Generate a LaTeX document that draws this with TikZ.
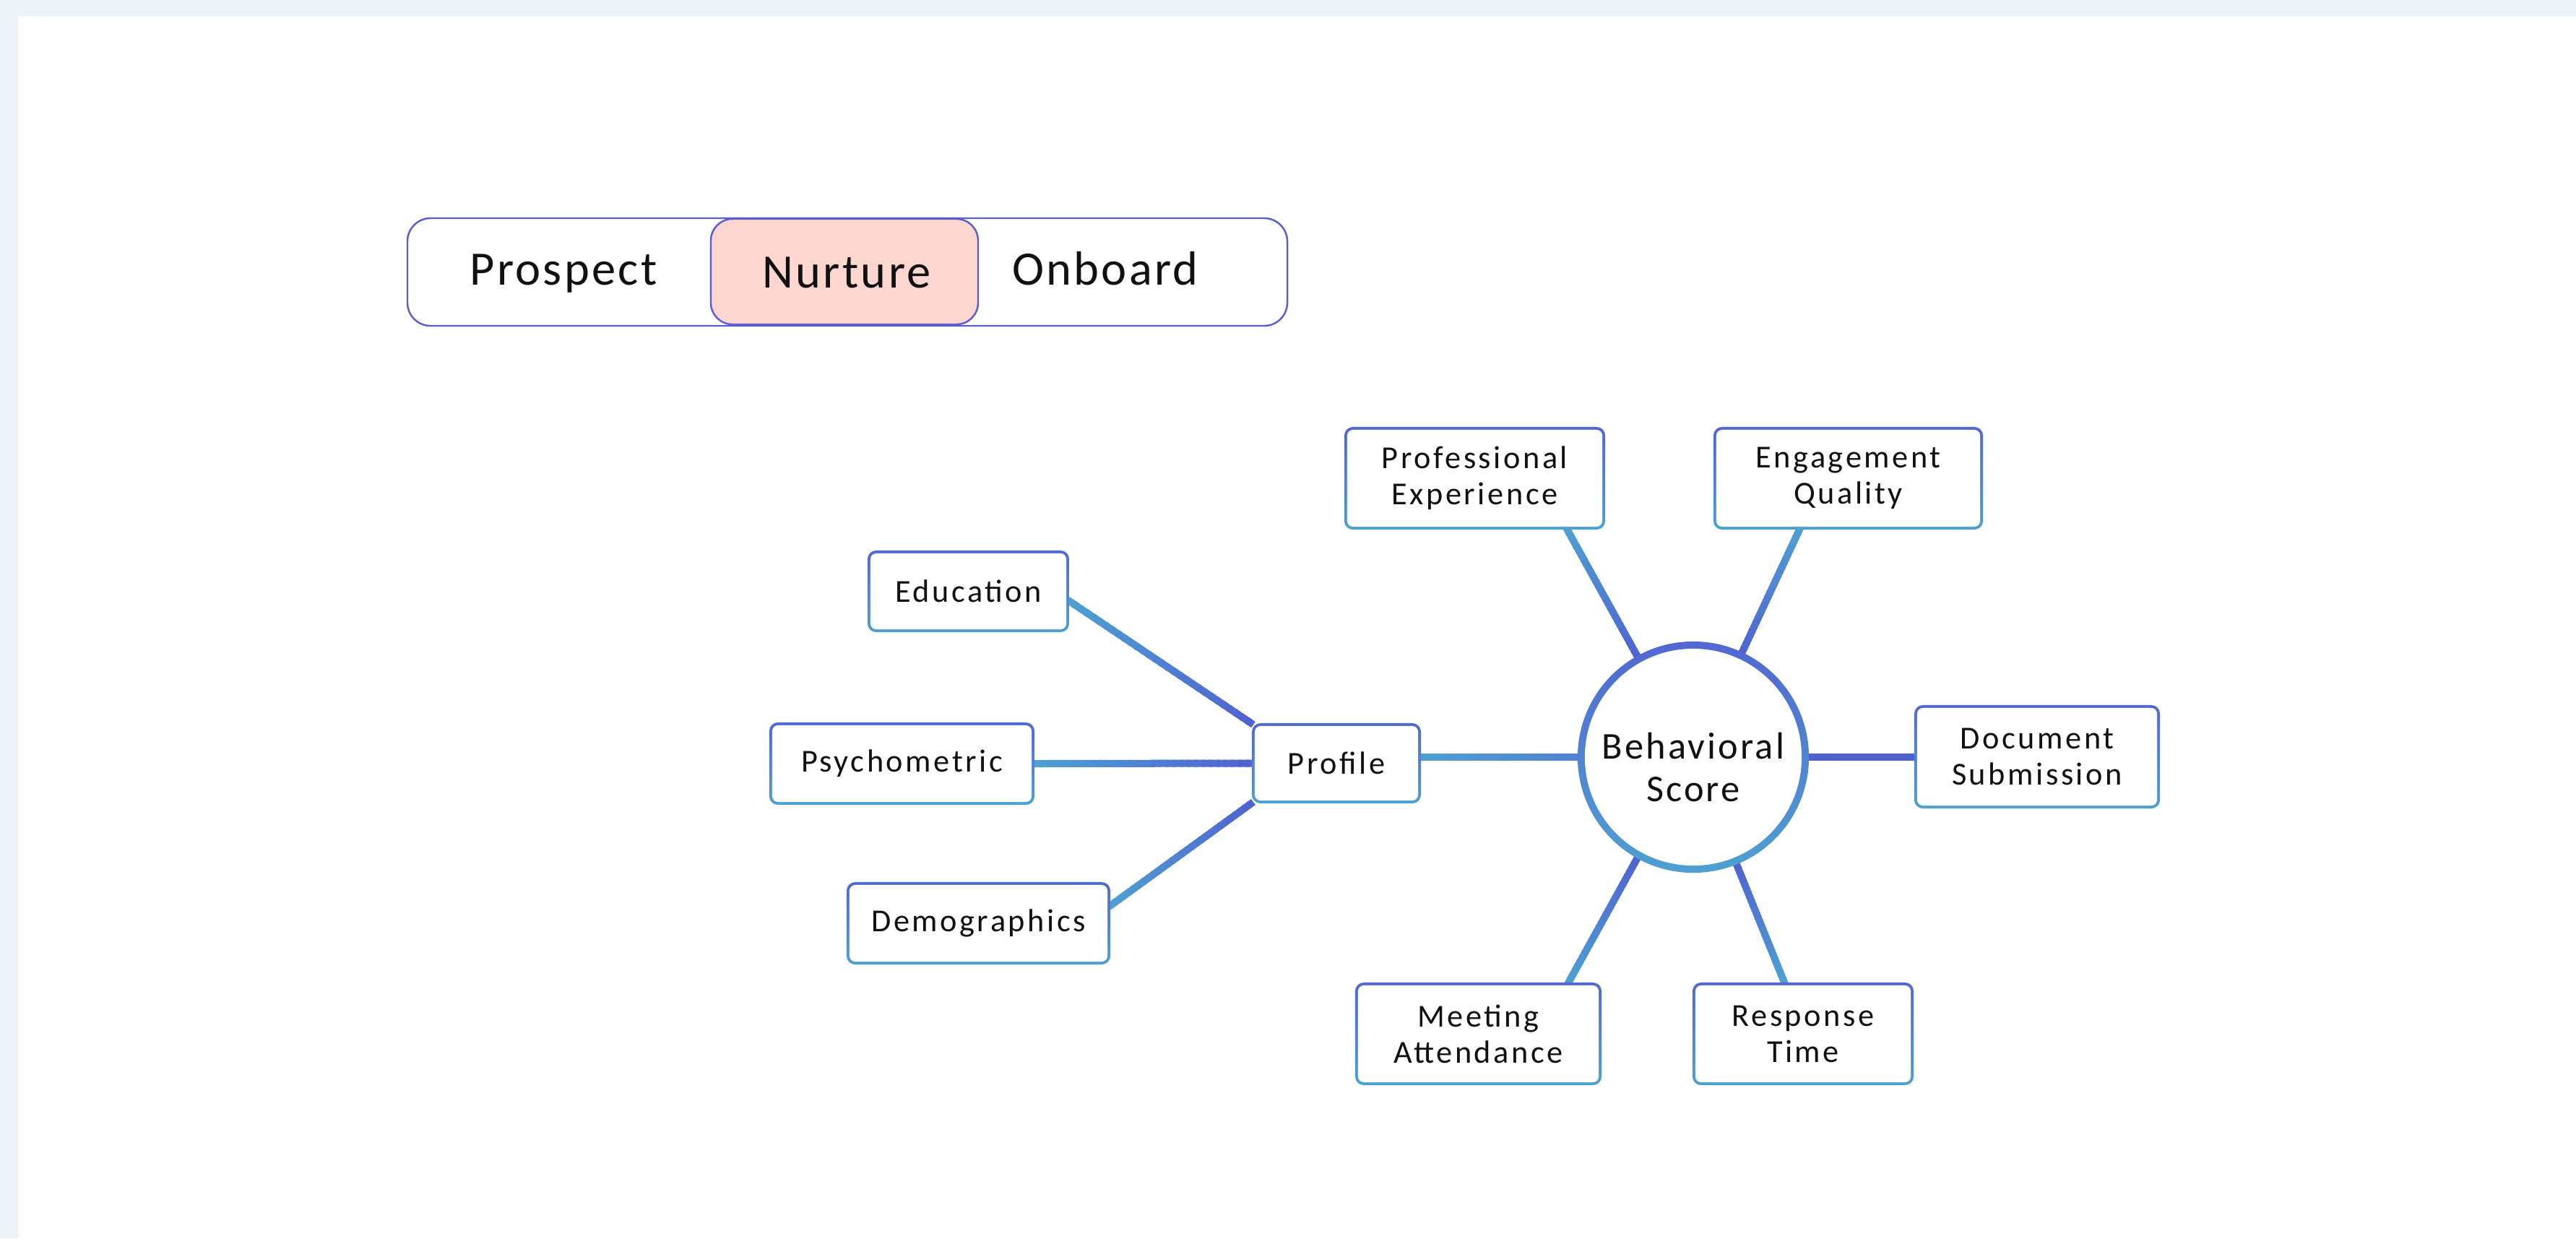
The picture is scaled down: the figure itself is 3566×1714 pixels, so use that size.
\documentclass[tikz,border=0pt]{standalone}
\usepackage{fontspec}
\setmainfont{Carlito}[LetterSpace=8]
\usetikzlibrary{calc}

\definecolor{pagebg}{RGB}{238,243,248}
\definecolor{ink}{RGB}{17,17,17}
\definecolor{tabline}{RGB}{90,94,208}
\definecolor{tabfill}{RGB}{253,214,208}
\definecolor{linkDark}{RGB}{80,98,208}
\definecolor{linkMid}{RGB}{80,130,208}
\definecolor{linkLight}{RGB}{78,160,210}
\definecolor{frameTop}{RGB}{82,104,210}
\definecolor{frameBot}{RGB}{78,160,210}

\pgfdeclarelayer{bg}
\pgfdeclarelayer{links}
\pgfdeclarelayer{frames}
\pgfsetlayers{bg,links,frames,main}

% thick connector whose colour runs from #3 (at #1) to #4 (at #2)
\newcommand\gradlink[4]{%
  \foreach \k in {0,...,29}{%
    \pgfmathsetmacro\ta{\k/30}%
    \pgfmathsetmacro\tb{min(1,(\k+1.4)/30)}%
    \pgfmathtruncatemacro\pc{\k*100/29}%
    \draw[link, draw={#4!\pc!#3}] ($(#1)!\ta!(#2)$) -- ($(#1)!\tb!(#2)$);
  }}

% rounded frame with a vertical colour gradient around a node
\newcommand\leafframe[1]{%
  \shade[top color=frameTop,bottom color=frameBot,rounded corners=0.12cm]
    ($(#1.south west)+(-0.02cm,-0.02cm)$) rectangle ($(#1.north east)+(0.02cm,0.02cm)$);
  \fill[white,rounded corners=0.08cm]
    ($(#1.south west)+(0.02cm,0.02cm)$) rectangle ($(#1.north east)+(-0.02cm,-0.02cm)$);}

\begin{document}
\begin{tikzpicture}[x=0.01cm,y=-0.01cm,
  leaf/.style={rectangle, inner sep=0pt, outer sep=0pt, align=center, text=ink,
    font=\fontsize{12.6}{14.2}\selectfont},
  hub/.style={circle, inner sep=0pt, outer sep=0pt, minimum size=3.1cm},
  hubtext/.style={inner sep=0pt, align=center, text=ink,
    font=\fontsize{14.9}{16.8}\selectfont\addfontfeatures{LetterSpace=6}},
  tab/.style={anchor=base, text=ink, inner sep=0pt,
    font=\fontsize{18.9}{22}\selectfont\addfontfeatures{LetterSpace=5}},
  link/.style={line width=0.1cm, line cap=butt},
]
\useasboundingbox (0,0) rectangle (3566,1714);

\begin{pgfonlayer}{bg}
  \fill[pagebg] (0,0) rectangle (3566,1714);
  \fill[white] (25,23) rectangle (3566,1714);
\end{pgfonlayer}

% stage selector
\draw[tabline, line width=0.7pt, rounded corners=0.32cm] (564,302) rectangle (1782,451);
\draw[tabline, fill=tabfill, line width=0.7pt, rounded corners=0.3cm] (984,303) rectangle (1354,449);
\node[tab] (prospect) at (780,394) {Prospect};
\node[tab] (nurture) at (1172,398) {Nurture};
\node[tab] (onboard) at (1530,394) {Onboard};

% mind map nodes
\node[hub] (bs) at (2344,1048) {};
\node[hubtext] (bs-label) at (2344,1062) {Behavioral\\Score};
\node[leaf, minimum width=2.30cm, minimum height=1.07cm] (prof) at (1850,1056.5) {Profile};
\node[leaf, minimum width=2.75cm, minimum height=1.09cm] (edu) at (1340.5,818.5) {Education};
\node[leaf, minimum width=3.63cm, minimum height=1.10cm] (psy) at (1248.5,1057) {Psychometric};
\node[leaf, minimum width=3.61cm, minimum height=1.10cm] (demo) at (1354.5,1278) {Demographics};
\node[leaf, minimum width=3.57cm, minimum height=1.38cm] (pe) at (2041.5,662) {Professional\\Experience};
\node[leaf, minimum width=3.69cm, minimum height=1.38cm] (eq) at (2558.5,662) {Engagement\\Quality};
\node[leaf, minimum width=3.36cm, minimum height=1.39cm] (doc) at (2820,1047.5) {Document\\Submission};
\node[leaf, minimum width=3.37cm, minimum height=1.38cm] (ma) at (2046.5,1431) {Meeting\\Attendance};
\node[leaf, minimum width=3.02cm, minimum height=1.38cm] (rt) at (2496,1431) {Response\\Time};

% connector end points
\coordinate (edu-out) at ($(edu.east)+(0,-0.12cm)$);
\coordinate (demo-out) at ($(demo.east)+(0,0.23cm)$);
\coordinate (prof-out) at (prof.east |- bs.center);
\coordinate (doc-in) at (doc.west |- bs.center);
\coordinate (pe-foot) at (intersection of bs.center--bs.119 and pe.south west--pe.south east);
\coordinate (eq-foot) at (intersection of bs.center--bs.65 and eq.south west--eq.south east);
\coordinate (ma-top) at (intersection of bs.center--bs.241 and ma.north west--ma.north east);
\coordinate (rt-top) at (intersection of bs.center--bs.292 and rt.north west--rt.north east);

\begin{pgfonlayer}{links}
  \gradlink{edu-out}{prof.north west}{linkLight}{linkDark}
  \gradlink{psy.east}{prof.west}{linkLight}{linkDark}
  \gradlink{demo-out}{prof.south west}{linkLight}{linkDark}
  \gradlink{prof-out}{bs.west}{linkLight}{linkMid}
  \gradlink{pe-foot}{bs.119}{linkLight}{linkDark}
  \gradlink{eq-foot}{bs.65}{linkLight}{linkDark}
  \gradlink{ma-top}{bs.241}{linkLight}{linkDark}
  \gradlink{rt-top}{bs.292}{linkLight}{linkDark}
  \draw[link, linkDark] (bs.east) -- (doc-in);
\end{pgfonlayer}

\begin{pgfonlayer}{frames}
  \shade[top color=frameTop, bottom color=frameBot] (bs.center) circle (1.6cm);
  \fill[white] (bs.center) circle (1.5cm);
  \leafframe{prof}
  \leafframe{edu}
  \leafframe{psy}
  \leafframe{demo}
  \leafframe{pe}
  \leafframe{eq}
  \leafframe{doc}
  \leafframe{ma}
  \leafframe{rt}
\end{pgfonlayer}
\end{tikzpicture}
\end{document}
